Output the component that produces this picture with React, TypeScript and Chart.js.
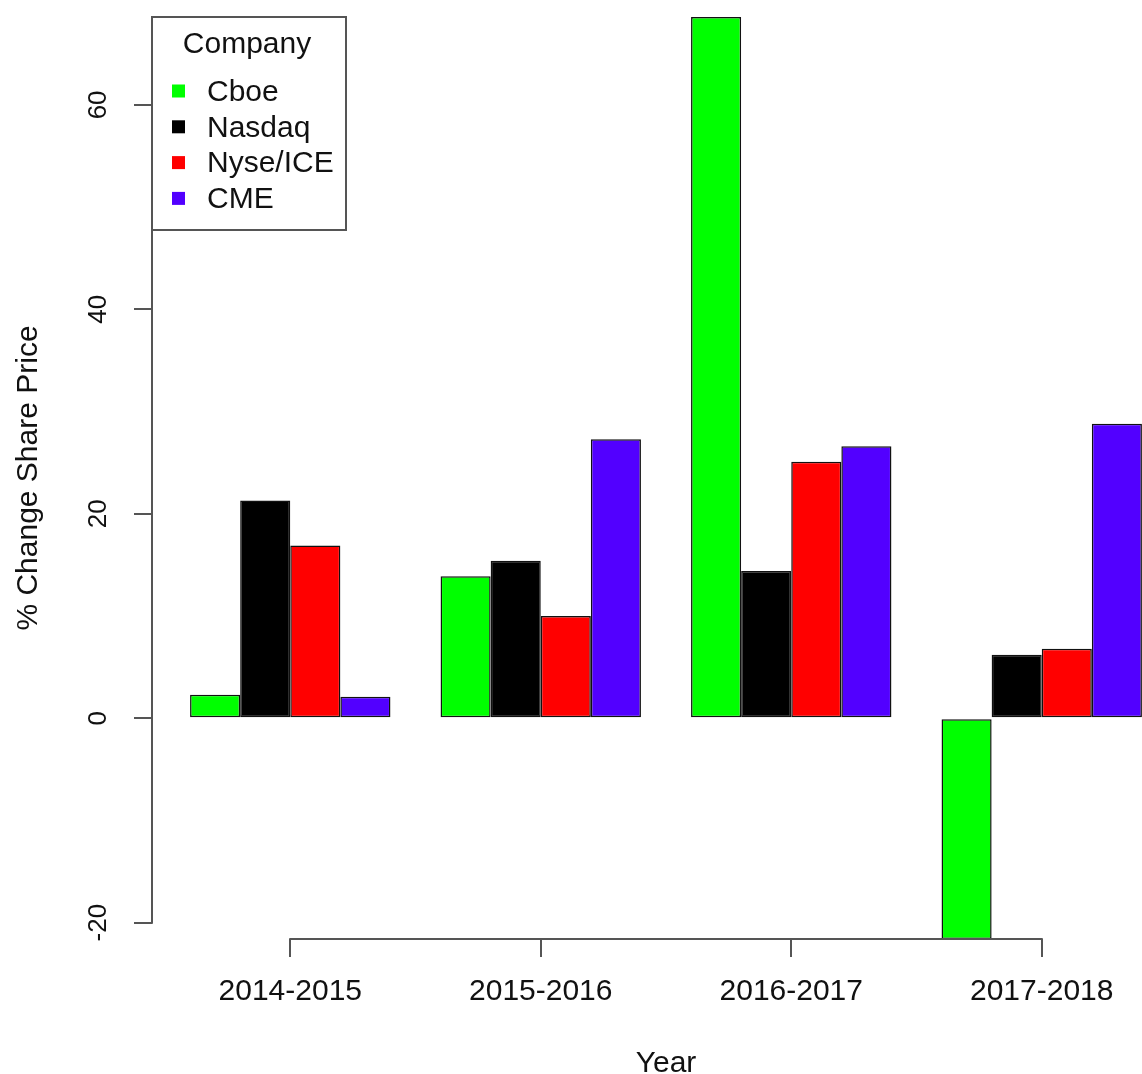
import React, { useEffect, useRef } from "react";
import { Chart, registerables } from "chart.js";

Chart.register(...registerables);

const categories = ["2014-2015", "2015-2016", "2016-2017", "2017-2018"];
const companies = ["Cboe", "Nasdaq", "Nyse/ICE", "CME"];
const cboeValues = [2.3, 13.9, 68.6, -21.6];
const nasdaqValues = [21.3, 15.4, 14.4, 6.2];
const nyseValues = [16.9, 10.0, 25.1, 6.8];
const cmeValues = [2.1, 27.3, 26.6, 28.8];
const seriesColors = ["#00FF00", "#000000", "#FF0000", "#5200FF"];
const yTickStep = 20;
const legendTitle = "Company";
const xTitle = "Year";
const yTitle = "% Change Share Price";

const FONT = "'Liberation Sans', Arial, Helvetica, sans-serif";
const AXIS_COLOR = "#555555";
const TEXT_COLOR = "#111111";

const axisLinePlugin = {
  id: "rAxisLines",
  afterDraw(chart: any) {
    const { ctx, chartArea, scales } = chart;
    const x = scales.x;
    const y = scales.y;
    ctx.save();
    ctx.strokeStyle = AXIS_COLOR;
    ctx.lineWidth = 2;
    ctx.lineCap = "square";
    const yt = y.ticks;
    ctx.beginPath();
    ctx.moveTo(chartArea.left, y.getPixelForValue(yt[0].value));
    ctx.lineTo(chartArea.left, y.getPixelForValue(yt[yt.length - 1].value));
    ctx.stroke();
    const xt = x.ticks;
    ctx.beginPath();
    ctx.moveTo(x.getPixelForValue(xt[0].value), chartArea.bottom);
    ctx.lineTo(x.getPixelForValue(xt[xt.length - 1].value), chartArea.bottom);
    ctx.stroke();
    ctx.restore();
  },
};

const legendPlugin = {
  id: "rLegend",
  afterDraw(chart: any) {
    const { ctx, chartArea } = chart;
    const x0 = chartArea.left;
    const y0 = chartArea.top;
    const w = 194;
    const h = 213;
    ctx.save();
    ctx.fillStyle = "#ffffff";
    ctx.fillRect(x0, y0, w, h);
    ctx.strokeStyle = AXIS_COLOR;
    ctx.lineWidth = 2;
    ctx.strokeRect(x0, y0, w, h);
    ctx.font = `30px ${FONT}`;
    ctx.fillStyle = TEXT_COLOR;
    ctx.textBaseline = "middle";
    ctx.textAlign = "center";
    ctx.fillText(legendTitle, x0 + 95, y0 + 27.5);
    ctx.textAlign = "left";
    chart.data.datasets.forEach((ds: any, i: number) => {
      const cy = y0 + 74 + i * 35.8;
      ctx.fillStyle = ds.backgroundColor;
      ctx.fillRect(x0 + 20, cy - 6.5, 13, 13);
      ctx.fillStyle = TEXT_COLOR;
      ctx.fillText(ds.label, x0 + 55, cy + 1.5);
    });
    ctx.restore();
  },
};

export default function App() {
  const canvasRef = useRef<HTMLCanvasElement | null>(null);

  useEffect(() => {
    const canvas = canvasRef.current;
    if (!canvas) return;
    const seriesValues = [cboeValues, nasdaqValues, nyseValues, cmeValues];
    const datasets = companies.map((name, si) => ({
      label: name,
      data: categories.map((_, ci) => ({ x: ci + 1, y: seriesValues[si][ci] })),
      backgroundColor: seriesColors[si],
      borderColor: "#111111",
      borderWidth: 1.5,
      borderSkipped: false as const,
      categoryPercentage: 0.8,
      barPercentage: 1.0,
    }));

    const chart = new Chart(canvas, {
      type: "bar",
      data: { datasets },
      options: {
        responsive: false,
        animation: false,
        devicePixelRatio: 1,
        layout: { padding: { top: 17, left: 0, right: 0, bottom: 0 } },
        plugins: {
          legend: { display: false },
          tooltip: { enabled: false },
        },
        scales: {
          x: {
            type: "linear",
            min: 0.448,
            max: 4.552,
            offset: false,
            afterFit: (scale: any) => {
              scale.height = 151;
              scale.paddingLeft = 0;
              scale.paddingRight = 0;
            },
            grid: {
              display: true,
              offset: false,
              drawOnChartArea: false,
              drawTicks: true,
              tickLength: 18,
              color: AXIS_COLOR,
              lineWidth: 2,
            },
            border: { display: false },
            ticks: {
              stepSize: 1,
              includeBounds: false,
              autoSkip: false,
              maxRotation: 0,
              minRotation: 0,
              padding: 17,
              color: TEXT_COLOR,
              font: { family: FONT, size: 30 },
              callback: (v: any) => categories[Math.round(Number(v)) - 1] ?? "",
            },
            title: {
              display: true,
              text: xTitle,
              color: TEXT_COLOR,
              font: { family: FONT, size: 30 },
              padding: { top: 0, bottom: 8 },
            },
          },
          y: {
            type: "linear",
            min: -21.6,
            max: 68.6,
            afterFit: (scale: any) => {
              scale.width = 152;
              scale.paddingTop = 0;
              scale.paddingBottom = 0;
            },
            grid: {
              display: true,
              drawOnChartArea: false,
              drawTicks: true,
              tickLength: 18,
              color: AXIS_COLOR,
              lineWidth: 2,
            },
            border: { display: false },
            ticks: {
              stepSize: yTickStep,
              includeBounds: false,
              minRotation: 90,
              maxRotation: 90,
              crossAlign: "center",
              padding: 16,
              color: TEXT_COLOR,
              font: { family: FONT, size: 26 },
            },
            title: {
              display: true,
              text: yTitle,
              color: TEXT_COLOR,
              font: { family: FONT, size: 30 },
              padding: { top: 11, bottom: 0 },
            },
          },
        },
      },
      plugins: [axisLinePlugin, legendPlugin],
    } as any);

    return () => {
      chart.destroy();
    };
  }, []);

  return (
    <div
      style={{
        position: "absolute",
        left: 0,
        top: 0,
        width: 1142,
        height: 1074,
        overflow: "hidden",
        background: "#ffffff",
      }}
    >
      <canvas
        ref={canvasRef}
        width={1180}
        height={1090}
        style={{ display: "block", width: 1180, height: 1090 }}
      />
    </div>
  );
}
